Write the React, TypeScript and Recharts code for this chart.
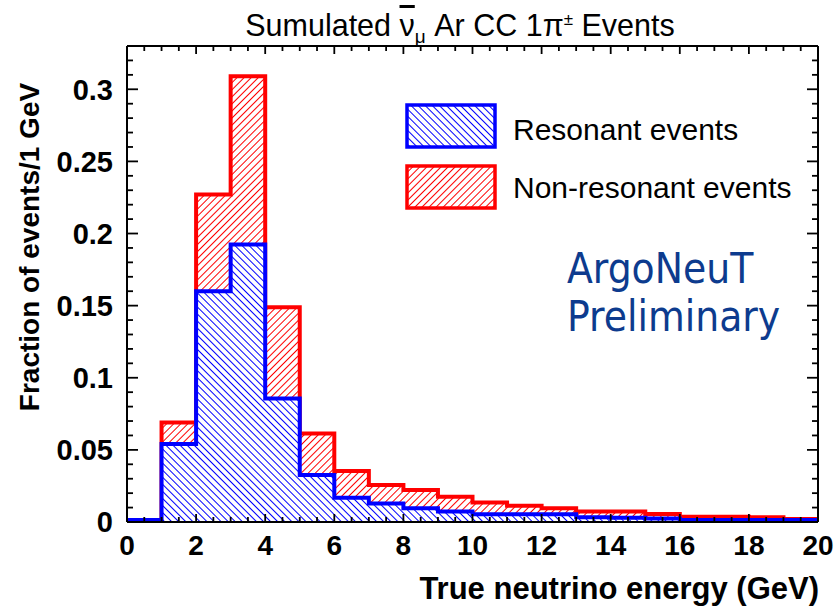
import { ComposedChart, Area, XAxis, YAxis, ReferenceLine } from 'recharts';

// lower edges of the 1 GeV bins
const binLow = [0, 1, 2, 3, 4, 5, 6, 7, 8, 9, 10, 11, 12, 13, 14, 15, 16, 17, 18, 19];

// fraction of events per bin
const resonant = [
  0.0014, 0.054, 0.16, 0.1923, 0.0857, 0.0325, 0.0168, 0.0129, 0.0095, 0.0072,
  0.0053, 0.0053, 0.0053, 0.0033, 0.003, 0.0025, 0.0014, 0.0014, 0.0014, 0.0014,
];
const nonResonant = [
  0, 0.015, 0.067, 0.1168, 0.0632, 0.0289, 0.0185, 0.0127, 0.0127, 0.0103,
  0.0083, 0.006, 0.0042, 0.0039, 0.0042, 0.003, 0.0023, 0.0023, 0.0019, 0.0006,
];

const xTickLabels = [0, 2, 4, 6, 8, 10, 12, 14, 16, 18, 20];
const yTickLabels = [0, 0.05, 0.1, 0.15, 0.2, 0.25, 0.3];

const xMinor = Array.from({ length: 41 }, (_, i) => i / 2);
const yMinor = Array.from({ length: 34 }, (_, i) => i / 100);

// one point per bin edge; the last bin is repeated at 20 GeV so the step closes
const rows = [...binLow, 20].map((e, i) => {
  const k = Math.min(i, binLow.length - 1);
  return { e, res: resonant[k], total: resonant[k] + nonResonant[k] };
});

const FONT = '"Liberation Sans", Arial, Helvetica, sans-serif';
const X_MARGIN = 13;
const Y_MARGIN = 14;
const TICK_W = 1.8;

const labelStyle = { fontFamily: FONT, fontSize: 28, fontWeight: 700, fill: '#000' };

const BottomTick = (p: any) => {
  const { x, y, payload } = p;
  const major = xTickLabels.includes(payload.value);
  const base = y - X_MARGIN;
  return (
    <g>
      <line x1={x} x2={x} y1={base} y2={base - (major ? 8 : 5)} stroke="#000" strokeWidth={TICK_W} />
      {major && (
        <text x={x} y={y} dy="0.72em" textAnchor="middle" {...labelStyle}>
          {payload.value}
        </text>
      )}
    </g>
  );
};

const TopTick = (p: any) => {
  const { x, y, payload } = p;
  const major = xTickLabels.includes(payload.value);
  return <line x1={x} x2={x} y1={y} y2={y + (major ? 8 : 5)} stroke="#000" strokeWidth={TICK_W} />;
};

const LeftTick = (p: any) => {
  const { x, y, payload } = p;
  const major = yTickLabels.includes(payload.value);
  const base = x + Y_MARGIN;
  return (
    <g>
      <line x1={base} x2={base + (major ? 11 : 6)} y1={y} y2={y} stroke="#000" strokeWidth={TICK_W} />
      {major && (
        <text x={x} y={y} dy="0.36em" textAnchor="end" {...labelStyle} fontSize={29}>
          {String(payload.value)}
        </text>
      )}
    </g>
  );
};

const RightTick = (p: any) => {
  const { x, y, payload } = p;
  const major = yTickLabels.includes(payload.value);
  return <line x1={x} x2={x - (major ? 11 : 6)} y1={y} y2={y} stroke="#000" strokeWidth={TICK_W} />;
};

const frame = { stroke: '#000', strokeWidth: 2 };

function Hatch({ id, color, dir, bg }: { id: string; color: string; dir: number; bg?: string }) {
  return (
    <pattern id={id} patternUnits="userSpaceOnUse" width={5} height={5} patternTransform={`rotate(${dir})`}>
      {bg && <rect width={5} height={5} fill={bg} />}
      <line x1={2.5} x2={2.5} y1={0} y2={5} stroke={color} strokeWidth={1} />
    </pattern>
  );
}

function LegendBox({ id, color, dir, bg }: { id: string; color: string; dir: number; bg?: string }) {
  return (
    <svg width={92} height={46} style={{ display: 'block' }}>
      <defs>
        <Hatch id={id} color={color} dir={dir} bg={bg} />
      </defs>
      <rect x={2} y={2} width={88} height={42} fill={`url(#${id})`} stroke={color} strokeWidth={3.5} />
    </svg>
  );
}

export default function App() {
  return (
    <div style={{ position: 'absolute', left: 0, top: 0, width: 839, height: 606, background: '#fff', fontFamily: FONT }}>
      <ComposedChart width={839} height={606} data={rows} margin={{ top: 45, right: 20, bottom: 34, left: 67 }}>
        <defs>
          <Hatch id="hatchRes" color="#0000ff" dir={-45} bg="#ffffff" />
          <Hatch id="hatchNon" color="#ff0000" dir={45} bg="#ffffff" />
        </defs>
        <XAxis
          xAxisId="x"
          dataKey="e"
          type="number"
          domain={[0, 20]}
          allowDataOverflow
          ticks={xMinor}
          interval={0}
          tickSize={0}
          tickMargin={X_MARGIN}
          tickLine={false}
          axisLine={frame}
          tick={BottomTick}
          height={50}
        />
        <XAxis
          xAxisId="xTop"
          orientation="top"
          dataKey="e"
          type="number"
          domain={[0, 20]}
          allowDataOverflow
          ticks={xMinor}
          interval={0}
          tickSize={0}
          tickMargin={0}
          tickLine={false}
          axisLine={frame}
          tick={TopTick}
          height={1}
        />
        <YAxis
          yAxisId="y"
          type="number"
          domain={[0, 0.33]}
          allowDataOverflow
          ticks={yMinor}
          interval={0}
          tickSize={0}
          tickMargin={Y_MARGIN}
          tickLine={false}
          axisLine={frame}
          tick={LeftTick}
          width={60}
        />
        <YAxis
          yAxisId="yRight"
          orientation="right"
          type="number"
          domain={[0, 0.33]}
          allowDataOverflow
          ticks={yMinor}
          interval={0}
          tickSize={0}
          tickMargin={0}
          tickLine={false}
          axisLine={frame}
          tick={RightTick}
          width={1}
        />
        <Area
          xAxisId="x"
          yAxisId="y"
          type="stepAfter"
          dataKey="total"
          stroke="#ff0000"
          strokeWidth={4}
          strokeLinejoin="miter"
          fill="url(#hatchNon)"
          fillOpacity={1}
          dot={false}
          activeDot={false}
          isAnimationActive={false}
        />
        <Area
          xAxisId="x"
          yAxisId="y"
          type="stepAfter"
          dataKey="res"
          stroke="#0000ff"
          strokeWidth={4}
          strokeLinejoin="miter"
          fill="url(#hatchRes)"
          fillOpacity={1}
          dot={false}
          activeDot={false}
          isAnimationActive={false}
        />
        {/* top and right edges of the frame */}
        <ReferenceLine xAxisId="x" yAxisId="y" y={0.33} ifOverflow="visible" stroke="#000" strokeWidth={2} />
        <ReferenceLine xAxisId="x" yAxisId="y" x={20} ifOverflow="visible" stroke="#000" strokeWidth={2} />
      </ComposedChart>

      <div style={{ position: 'absolute', left: 0, top: 10, width: 920, textAlign: 'center', fontSize: 30.5, lineHeight: 1, whiteSpace: 'nowrap' }}>
        Sumulated <span style={{ textDecoration: 'overline' }}>ν</span>
        <sub style={{ fontSize: 19, lineHeight: 0 }}>μ</sub> Ar CC 1π<sup style={{ fontSize: 17, lineHeight: 0 }}>±</sup> Events
      </div>

      <div style={{ position: 'absolute', left: 405, top: 103 }}>
        <LegendBox id="legRes" color="#0000ff" dir={-45} />
      </div>
      <div style={{ position: 'absolute', left: 405, top: 164 }}>
        <LegendBox id="legNon" color="#ff0000" dir={45} />
      </div>
      <div style={{ position: 'absolute', left: 513, top: 115, fontSize: 30, lineHeight: 1, whiteSpace: 'nowrap' }}>Resonant events</div>
      <div style={{ position: 'absolute', left: 513, top: 173, fontSize: 30, lineHeight: 1, whiteSpace: 'nowrap' }}>Non-resonant events</div>

      <div
        style={{
          position: 'absolute',
          left: 567,
          top: 245,
          fontFamily: '"DejaVu Sans Condensed", "DejaVu Sans", sans-serif',
          fontStretch: 'condensed',
          fontSize: 42,
          lineHeight: '48px',
          color: '#0d3b8e',
          whiteSpace: 'nowrap',
        }}
      >
        ArgoNeuT
        <br />
        Preliminary
      </div>

      <div
        style={{
          position: 'absolute',
          left: 30,
          top: 247,
          transform: 'translate(-50%, -50%) rotate(-90deg)',
          fontSize: 28,
          fontWeight: 700,
          lineHeight: 1,
          whiteSpace: 'nowrap',
        }}
      >
        Fraction of events/1 GeV
      </div>
      <div style={{ position: 'absolute', right: 20, top: 573, fontSize: 31, fontWeight: 700, lineHeight: 1, whiteSpace: 'nowrap' }}>
        True neutrino energy (GeV)
      </div>
    </div>
  );
}
